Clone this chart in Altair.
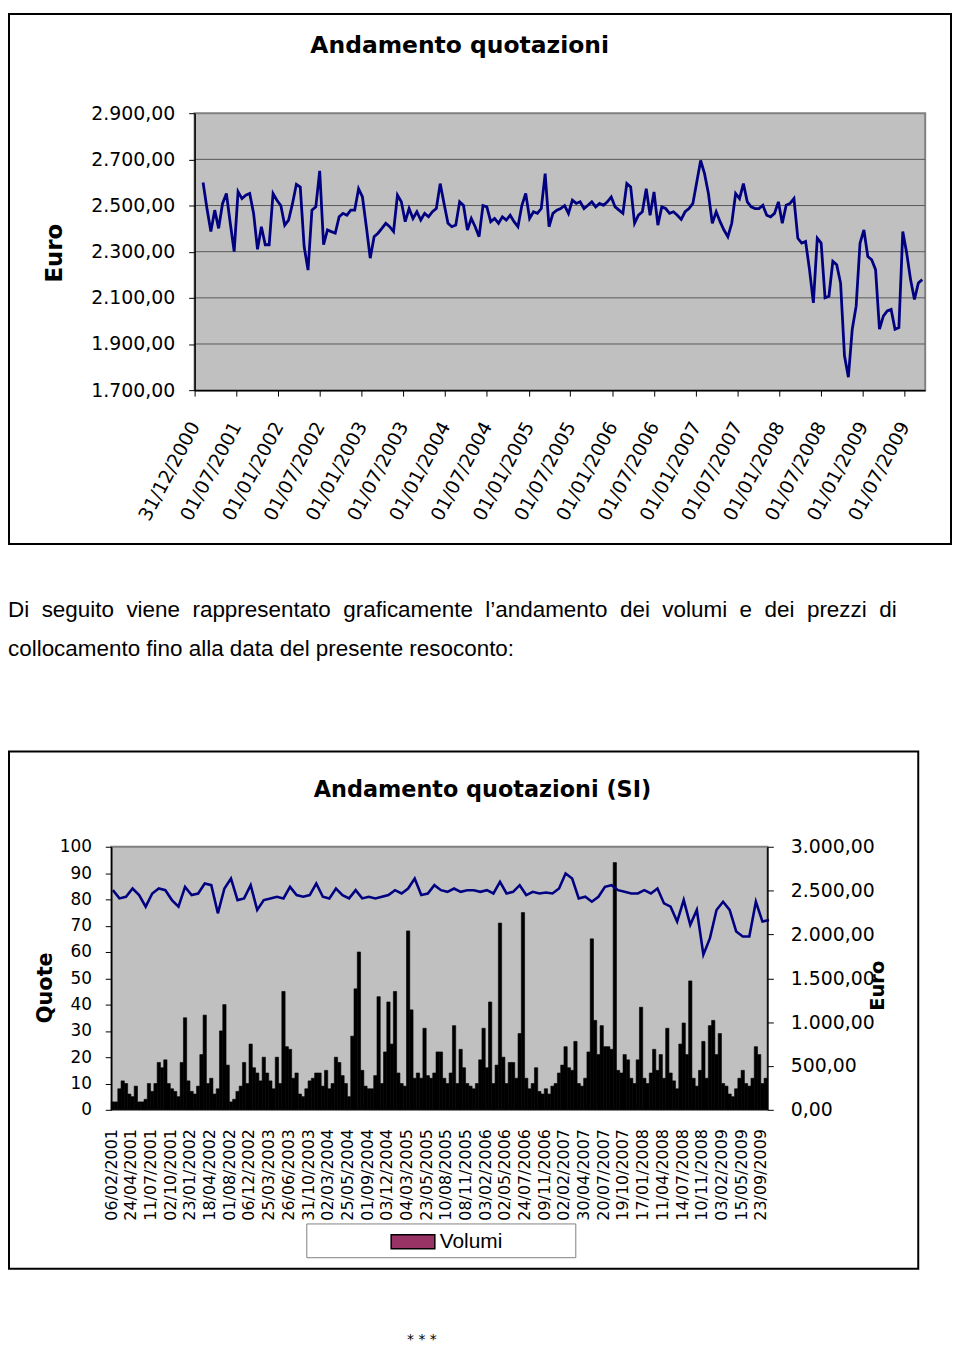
import altair as alt
import pandas as pd
from datetime import date

# ---------------- texts ----------------
TITLE_TOP = "Andamento quotazioni"
TITLE_BOTTOM = "Andamento quotazioni (SI)"
EURO = "Euro"
QUOTE = "Quote"
LEGEND_LABEL = "Volumi"
PARA_WORDS_1 = ["Di", "seguito", "viene", "rappresentato", "graficamente", "l\u2019andamento",
                "dei", "volumi", "e", "dei", "prezzi", "di"]
PARA_LINE_2 = "collocamento fino alla data del presente resoconto:"
FOOTER = "* * *"

# ---------------- top chart data ----------------
TOP_TICK_LABELS = ["31/12/2000", "01/07/2001", "01/01/2002", "01/07/2002", "01/01/2003",
                   "01/07/2003", "01/01/2004", "01/07/2004", "01/01/2005", "01/07/2005",
                   "01/01/2006", "01/07/2006", "01/01/2007", "01/07/2007", "01/01/2008",
                   "01/07/2008", "01/01/2009", "01/07/2009"]
TOP_Y_TICKS = [1700, 1900, 2100, 2300, 2500, 2700, 2900]
TOP_AXIS_END = "30/09/2009"
TOP_FIRST_DATE = "06/02/2001"
TOP_STEP_DAYS = 17
TOP_PRICE = [
    2600, 2487, 2387, 2480, 2401, 2508, 2552, 2423, 2300, 2560,
    2530, 2545, 2552, 2466, 2310, 2408, 2330, 2330, 2552, 2523,
    2500, 2415, 2437, 2508, 2592, 2580, 2322, 2220, 2480, 2494,
    2650, 2330, 2394, 2387, 2380, 2451, 2466, 2458, 2480, 2480,
    2573, 2537, 2408, 2272, 2365, 2380, 2401, 2423, 2408, 2387,
    2545, 2516, 2430, 2487, 2444, 2473, 2437, 2466, 2451, 2473,
    2487, 2595, 2508, 2423, 2408, 2415, 2516, 2500, 2394, 2444,
    2408, 2365, 2500, 2494, 2430, 2444, 2423, 2451, 2437, 2458,
    2430, 2408, 2500, 2552, 2444, 2473, 2466, 2487, 2638, 2408,
    2466, 2480, 2487, 2500, 2466, 2523, 2509, 2516, 2487, 2501,
    2516, 2494, 2509, 2501, 2516, 2537, 2494, 2480, 2466, 2595,
    2580, 2423, 2458, 2473, 2573, 2458, 2559, 2415, 2494, 2487,
    2466, 2473, 2458, 2440, 2473, 2487, 2509, 2602, 2695, 2638,
    2552, 2423, 2473, 2430, 2394, 2365, 2423, 2552, 2530, 2595,
    2516, 2494, 2487, 2487, 2501, 2458, 2451, 2466, 2516, 2423,
    2501, 2509, 2530, 2358, 2337, 2344, 2222, 2078, 2358, 2337,
    2100, 2107, 2258, 2243, 2164, 1849, 1756, 1964, 2064, 2337,
    2394, 2279, 2265, 2222, 1964, 2021, 2043, 2050, 1964, 1971,
    2387, 2294, 2179, 2093, 2164, 2179,
]

# ---------------- bottom chart data ----------------
BOTTOM_LABELS = ["06/02/2001", "24/04/2001", "11/07/2001", "02/10/2001", "23/01/2002",
                 "18/04/2002", "01/08/2002", "06/12/2002", "25/03/2003", "26/06/2003",
                 "31/10/2003", "02/03/2004", "25/05/2004", "01/09/2004", "03/12/2004",
                 "04/03/2005", "23/05/2005", "10/08/2005", "08/11/2005", "03/02/2006",
                 "02/05/2006", "24/07/2006", "09/11/2006", "02/02/2007", "30/04/2007",
                 "20/07/2007", "19/10/2007", "17/01/2008", "11/04/2008", "14/07/2008",
                 "10/11/2008", "03/02/2009", "15/05/2009", "23/09/2009"]
BOTTOM_LABEL_EVERY = 6
BOTTOM_CATEGORIES = 200
LEFT_TICKS = [0, 10, 20, 30, 40, 50, 60, 70, 80, 90, 100]
RIGHT_TICKS = [0, 500, 1000, 1500, 2000, 2500, 3000]
VOLUMES = [
    3, 3, 8, 11, 10, 6, 5, 9, 3, 3,
    4, 10, 7, 10, 18, 16, 19, 10, 8, 7,
    5, 18, 35, 11, 7, 6, 9, 21, 36, 10,
    12, 6, 8, 30, 40, 17, 3, 4, 7, 9,
    18, 10, 25, 16, 14, 11, 20, 14, 11, 8,
    20, 10, 45, 24, 23, 12, 14, 6, 5, 8,
    11, 12, 14, 14, 9, 15, 8, 10, 20, 18,
    13, 10, 5, 28, 46, 60, 15, 9, 8, 8,
    13, 43, 10, 22, 41, 25, 45, 14, 10, 9,
    68, 38, 12, 14, 12, 31, 13, 12, 14, 22,
    22, 12, 10, 14, 32, 10, 23, 16, 10, 9,
    8, 10, 19, 31, 16, 41, 10, 17, 71, 20,
    10, 18, 18, 12, 29, 75, 12, 8, 10, 16,
    7, 6, 8, 6, 9, 10, 14, 17, 24, 16,
    15, 26, 10, 9, 12, 22, 65, 34, 21, 32,
    24, 24, 23, 94, 15, 14, 21, 19, 12, 10,
    19, 39, 12, 10, 14, 23, 15, 21, 12, 31,
    14, 11, 8, 25, 33, 21, 49, 12, 9, 15,
    26, 12, 32, 34, 21, 29, 10, 9, 6, 5,
    8, 12, 15, 10, 9, 12, 24, 21, 10, 12,
]
BOTTOM_PRICE_EVERY = 2
BOTTOM_PRICE = [
    2505, 2411, 2430, 2524, 2449, 2317, 2467, 2524, 2505, 2392,
    2317, 2543, 2449, 2467, 2581, 2562, 2241, 2524, 2637, 2392,
    2411, 2562, 2279, 2392, 2411, 2430, 2411, 2543, 2449, 2430,
    2449, 2581, 2430, 2411, 2524, 2449, 2411, 2505, 2411, 2430,
    2411, 2430, 2449, 2505, 2467, 2524, 2637, 2449, 2467, 2562,
    2505, 2486, 2524, 2486, 2505, 2505, 2486, 2505, 2467, 2600,
    2467, 2486, 2562, 2449, 2486, 2467, 2479, 2467, 2524, 2694,
    2637, 2411, 2430, 2373, 2430, 2543, 2562, 2505, 2486, 2467,
    2467, 2505, 2467, 2524, 2354, 2317, 2147, 2392, 2109, 2279,
    1770, 1958, 2279, 2373, 2279, 2034, 1977, 1977, 2373, 2147,
    2166,
]

# ---------------- derived tables ----------------
def parse_d(s):
    d, m, y = (int(p) for p in s.split("/"))
    return date(y, m, d)

BASE = parse_d(TOP_TICK_LABELS[0])
def day_of(s):
    return (parse_d(s) - BASE).days

top_end_day = day_of(TOP_AXIS_END)
top_tick_days = [day_of(s) for s in TOP_TICK_LABELS]
first_day = day_of(TOP_FIRST_DATE)
top_df = pd.DataFrame({"d": [first_day + TOP_STEP_DAYS * i for i in range(len(TOP_PRICE))],
                       "p": TOP_PRICE})
bars_df = pd.DataFrame({"i": list(range(len(VOLUMES))),
                        "i2": [i + 1 for i in range(len(VOLUMES))],
                        "v": VOLUMES})
bline_df = pd.DataFrame({"k": [BOTTOM_PRICE_EVERY * k + 0.5 for k in range(len(BOTTOM_PRICE))],
                         "p": BOTTOM_PRICE})

# ---------------- layout (pixels, chart coords) ----------------
W, H = 951, 1344
TX0, TX1, TY0, TY1 = 188, 924, 380, 101        # top plot
BX0, BX1, BY0, BY1 = 104, 765, 1105, 840       # bottom plot

LABEL_FONT = "DejaVu Sans"
EURO_EXPR = "replace(replace(replace(format(datum.value, ',.2f'), ',', '#'), '.', ','), '#', '.')"
top_x_expr = ("[" + ",".join("'%s'" % s for s in TOP_TICK_LABELS) + "][indexof(["
              + ",".join(str(d) for d in top_tick_days) + "], datum.value)]")
bot_x_expr = ("[" + ",".join("'%s'" % s for s in BOTTOM_LABELS) + "][round(datum.value/"
              + str(BOTTOM_LABEL_EVERY) + ")]")

top_xs = alt.Scale(domain=[0, top_end_day], range=[TX0, TX1], nice=False, zero=False)
top_ys = alt.Scale(domain=[TOP_Y_TICKS[0], TOP_Y_TICKS[-1]], range=[TY0, TY1], nice=False, zero=False)
bot_xs = alt.Scale(domain=[0, BOTTOM_CATEGORIES], range=[BX0, BX1], nice=False, zero=False)
bot_ls = alt.Scale(domain=[LEFT_TICKS[0], LEFT_TICKS[-1]], range=[BY0, BY1], nice=False, zero=False)
bot_rs = alt.Scale(domain=[RIGHT_TICKS[0], RIGHT_TICKS[-1]], range=[BY0, BY1], nice=False, zero=False)

top_x_axis = alt.Axis(orient="bottom", offset=TY0 - H, values=top_tick_days, labelExpr=top_x_expr,
                      labelAngle=298, labelAlign="right", labelBaseline="middle", labelPadding=27,
                      labelFont=LABEL_FONT, labelFontSize=19, labelColor="black", labelOverlap=False,
                      tickSize=6, tickColor="black", domainColor="black", domainWidth=1.5,
                      grid=False, title=None, zindex=1)
top_y_axis = alt.Axis(orient="left", offset=-TX0, values=TOP_Y_TICKS, labelExpr=EURO_EXPR,
                      labelFont=LABEL_FONT, labelFontSize=19, labelColor="black", labelPadding=14,
                      labelOverlap=False, tickSize=6, tickColor="black", domainColor="black",
                      domainWidth=1.5, grid=False, title=None, zindex=1)
bot_x_axis = alt.Axis(orient="bottom", offset=BY0 - H,
                      values=list(range(0, BOTTOM_LABEL_EVERY * len(BOTTOM_LABELS), BOTTOM_LABEL_EVERY)),
                      labelExpr=bot_x_expr, labelAngle=270, labelAlign="right", labelBaseline="middle",
                      labelPadding=19, labelFont=LABEL_FONT, labelFontSize=16, labelColor="black",
                      labelOverlap=False, ticks=False, domain=False, grid=False, title=None, zindex=1)
bot_l_axis = alt.Axis(orient="left", offset=-BX0, values=LEFT_TICKS, format="d",
                      labelFont=LABEL_FONT, labelFontSize=17, labelColor="black", labelPadding=14,
                      labelOverlap=False, tickSize=6, tickColor="black", domainColor="black",
                      domainWidth=1.5, grid=False, title=None, zindex=1)
bot_r_axis = alt.Axis(orient="right", offset=BX1 - W, values=RIGHT_TICKS, labelExpr=EURO_EXPR,
                      labelFont=LABEL_FONT, labelFontSize=19, labelColor="black", labelPadding=17,
                      labelOverlap=False, tickSize=6, tickColor="black", domainColor="black",
                      domainWidth=1.5, grid=False, title=None, zindex=1)

one = pd.DataFrame({"o": [0]})

def box(x1, y1, x2, y2, stroke="black", sw=2, fill="white", fo=0):
    return alt.Chart(one).mark_rect(fill=fill, fillOpacity=fo, stroke=stroke, strokeWidth=sw).encode(
        x=alt.value(x1), x2=alt.value(x2), y=alt.value(y1), y2=alt.value(y2))

def label(txt, x, y, size, font=LABEL_FONT, weight="normal", angle=0, align="center", baseline="middle"):
    return alt.Chart(pd.DataFrame({"t": [txt]})).mark_text(
        font=font, fontSize=size, fontWeight=weight, angle=angle, align=align,
        baseline=baseline, color="black").encode(text="t:N", x=alt.value(x), y=alt.value(y))

# ---------------- top chart ----------------
top_frame = box(1, 1, 950, 535)
top_bg = alt.Chart(pd.DataFrame({"x0": [0], "x1": [top_end_day],
                                 "y0": [TOP_Y_TICKS[0]], "y1": [TOP_Y_TICKS[-1]]})).mark_rect(
    fill="#c0c0c0", stroke="#808080", strokeWidth=2).encode(
    x=alt.X("x0:Q", scale=top_xs, axis=None), x2="x1:Q",
    y=alt.Y("y0:Q", scale=top_ys, axis=None), y2="y1:Q")
top_grid = alt.Chart(pd.DataFrame({"v": TOP_Y_TICKS[1:-1], "x0": 0, "x1": top_end_day})).mark_rule(
    color="#5a5a5a", strokeWidth=1).encode(
    x=alt.X("x0:Q", scale=top_xs, axis=None), x2="x1:Q",
    y=alt.Y("v:Q", scale=top_ys, axis=None))
top_line = alt.Chart(top_df).mark_line(color="#000080", strokeWidth=2.8).encode(
    x=alt.X("d:Q", scale=top_xs, axis=top_x_axis),
    y=alt.Y("p:Q", scale=top_ys, axis=top_y_axis))
top_title = label(TITLE_TOP, 455, 40, 23.6, weight="bold", baseline="alphabetic")
top_euro = label(EURO, 47, 242, 23, weight="bold", angle=270)

# ---------------- paragraph ----------------
para1 = label(" \u00a0".join(PARA_WORDS_1), 0, 609, 22.6, font="Liberation Sans",
              align="left", baseline="alphabetic")
para2 = label(PARA_LINE_2, 0, 648, 22.6, font="Liberation Sans", align="left", baseline="alphabetic")

# ---------------- bottom chart ----------------
bot_frame = box(1, 744, 917, 1265)
bot_bg = alt.Chart(pd.DataFrame({"x0": [0], "x1": [BOTTOM_CATEGORIES],
                                 "y0": [LEFT_TICKS[0]], "y1": [LEFT_TICKS[-1]]})).mark_rect(
    fill="#c0c0c0", stroke="#808080", strokeWidth=2).encode(
    x=alt.X("x0:Q", scale=bot_xs, axis=None), x2="x1:Q",
    y=alt.Y("y0:Q", scale=bot_ls, axis=None), y2="y1:Q")
bars = alt.Chart(bars_df).mark_rect(color="black", stroke="black", strokeWidth=0.6).encode(
    x=alt.X("i:Q", scale=bot_xs, axis=bot_x_axis), x2="i2:Q",
    y=alt.Y("v:Q", scale=bot_ls, axis=bot_l_axis), y2=alt.Y2Datum(0))
bot_line = alt.Chart(bline_df).mark_line(color="#000080", strokeWidth=2.6).encode(
    x=alt.X("k:Q", scale=bot_xs, axis=None),
    y=alt.Y("p:Q", scale=bot_rs, axis=bot_r_axis))
bot_title = label(TITLE_BOTTOM, 478, 790, 22.5, weight="bold", baseline="alphabetic")
quote = label(QUOTE, 38, 982, 21, weight="bold", angle=270)
euro_r = label(EURO, 876, 980, 19.5, weight="bold", angle=270)
legend_box = box(301, 1220, 572, 1254, stroke="#808080", sw=1, fill="white", fo=1)
legend_src = alt.Chart(pd.DataFrame({"s": [LEGEND_LABEL]})).mark_square(opacity=0, filled=True).encode(
    color=alt.Color("s:N", scale=alt.Scale(domain=[LEGEND_LABEL], range=["#993366"]),
                    legend=alt.Legend(orient="none", legendX=385, legendY=1215, title=None,
                                      symbolType="M-1,-0.32H1V0.32H-1Z", symbolSize=1936,
                                      symbolStrokeColor="black", symbolStrokeWidth=1.5,
                                      symbolOpacity=1, labelFont="Liberation Sans",
                                      labelFontSize=21, labelColor="black", labelOffset=4,
                                      padding=0)))
footer = label(FOOTER, 417, 1341, 14, baseline="alphabetic")

chart = alt.layer(
    top_frame, top_bg, top_grid, top_line, top_title, top_euro,
    para1, para2,
    bot_frame, bot_bg, bars, bot_line, bot_title, quote, euro_r,
    legend_box, legend_src, footer,
).resolve_scale(x="independent", y="independent").properties(
    width=W, height=H, padding=0, autosize=alt.AutoSizeParams(type="none")
).configure_view(strokeWidth=0)

chart.save("out.html", embed_options={"renderer": "svg", "actions": False})
